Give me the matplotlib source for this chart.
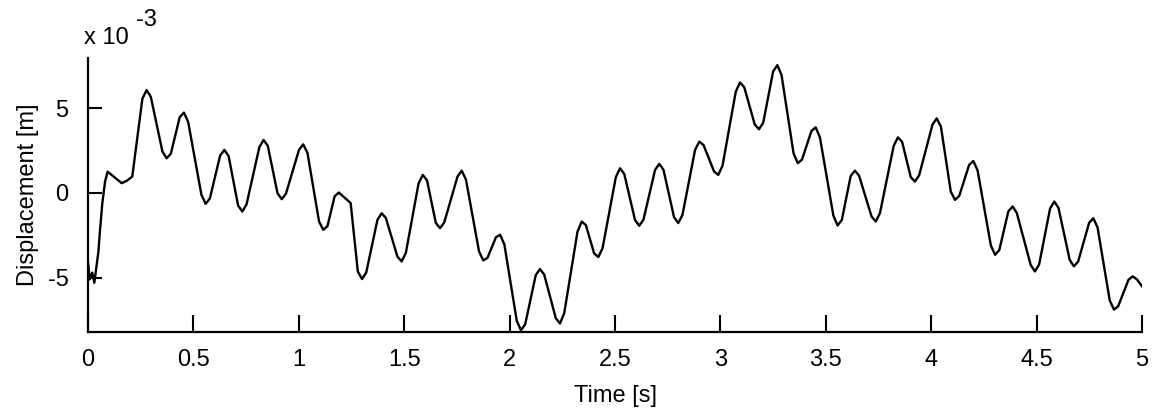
import numpy as np
import matplotlib
matplotlib.use("Agg")
import matplotlib.pyplot as plt

# time [s] and displacement [x 1e-3 m]
t = [0.000, 0.008, 0.020, 0.030, 0.049, 0.057, 0.068, 0.081, 0.093,
     0.160, 0.185, 0.210,
     0.258, 0.278, 0.298, 0.353, 0.373, 0.393, 0.435, 0.455, 0.475,
     0.538, 0.558, 0.578, 0.627, 0.647, 0.667, 0.712, 0.732, 0.752,
     0.813, 0.833, 0.853, 0.899, 0.919, 0.939, 1.001, 1.021, 1.041,
     1.096, 1.116, 1.136, 1.170, 1.190, 1.246,
     1.280, 1.300, 1.320, 1.373, 1.393, 1.413, 1.468, 1.488, 1.508,
     1.568, 1.588, 1.608, 1.650, 1.670, 1.690, 1.753, 1.773, 1.793,
     1.855, 1.875, 1.895, 1.935, 1.955, 1.975, 2.034, 2.054, 2.074,
     2.124, 2.144, 2.164, 2.219, 2.239, 2.259, 2.322, 2.342, 2.362,
     2.401, 2.421, 2.441, 2.504, 2.524, 2.544, 2.595, 2.615, 2.635,
     2.690, 2.710, 2.730, 2.780, 2.800, 2.820, 2.880, 2.900, 2.920,
     2.970, 2.990, 3.010, 3.073, 3.093, 3.113, 3.163, 3.183, 3.203,
     3.250, 3.270, 3.290, 3.347, 3.367, 3.387, 3.432, 3.452, 3.472,
     3.536, 3.556, 3.576, 3.618, 3.638, 3.658, 3.717, 3.737, 3.757,
     3.822, 3.842, 3.862, 3.903, 3.923, 3.943, 4.006, 4.026, 4.046,
     4.093, 4.113, 4.133, 4.180, 4.200, 4.220, 4.283, 4.303, 4.323,
     4.366, 4.386, 4.406, 4.472, 4.492, 4.512, 4.564, 4.584, 4.604,
     4.657, 4.677, 4.697, 4.749, 4.769, 4.789, 4.847, 4.867, 4.887,
     4.936, 4.956, 4.976, 5.000]
disp = [-4.10, -5.10, -4.70, -5.30, -3.50, -2.20, -0.60, 0.67, 1.25,
        0.57, 0.72, 0.96,
        5.55, 6.06, 5.66, 2.44, 2.04, 2.31, 4.46, 4.73, 4.19,
        -0.11, -0.65, -0.33, 2.21, 2.53, 2.17, -0.74, -1.10, -0.68,
        2.70, 3.12, 2.77, -0.02, -0.37, -0.05, 2.54, 2.86, 2.36,
        -1.68, -2.18, -1.96, -0.20, 0.02, -0.60,
        -4.63, -5.08, -4.69, -1.59, -1.20, -1.48, -3.76, -4.04, -3.53,
        0.55, 1.06, 0.75, -1.77, -2.08, -1.74, 0.97, 1.31, 0.78,
        -3.45, -3.98, -3.83, -2.62, -2.47, -3.03, -7.54, -8.10, -7.74,
        -4.85, -4.49, -4.81, -7.38, -7.70, -7.10, -2.29, -1.69, -1.90,
        -3.57, -3.78, -3.26, 0.93, 1.45, 1.11, -1.60, -1.94, -1.58,
        1.35, 1.71, 1.36, -1.43, -1.78, -1.30, 2.54, 3.02, 2.82,
        1.26, 1.06, 1.60, 5.97, 6.51, 6.23, 4.03, 3.75, 4.13,
        7.15, 7.53, 6.95, 2.33, 1.75, 1.96, 3.65, 3.86, 3.28,
        -1.34, -1.92, -1.60, 0.99, 1.31, 1.01, -1.39, -1.69, -1.19,
        2.77, 3.27, 3.01, 0.93, 0.67, 1.04, 4.02, 4.39, 3.91,
        0.07, -0.41, -0.18, 1.65, 1.88, 1.33, -3.10, -3.65, -3.37,
        -1.09, -0.80, -1.18, -4.25, -4.63, -4.22, -0.92, -0.51, -0.89,
        -3.95, -4.33, -4.05, -1.77, -1.49, -2.03, -6.34, -6.88, -6.68,
        -5.12, -4.92, -5.10, -5.51]

xticks = [0, 0.5, 1, 1.5, 2, 2.5, 3, 3.5, 4, 4.5, 5]
xticklabels = ["0", "0.5", "1", "1.5", "2", "2.5", "3", "3.5", "4", "4.5", "5"]
yticks = [-5, 0, 5]

plt.rcParams['font.family'] = ['Liberation Sans', 'DejaVu Sans']
plt.rcParams['axes.unicode_minus'] = False

fig = plt.figure(figsize=(11.56, 4.12), dpi=100)
ax = fig.add_axes([88/1156, 80/412, 1054/1156, 274/412])

ax.plot(t, disp, color='black', lw=1.7)

ax.set_xlim(0, 5)
ax.set_ylim(-8.2, 7.95)
ax.set_xticks(xticks)
ax.set_xticklabels(xticklabels)
ax.set_yticks(yticks)
ax.tick_params(direction='in', width=1.5, labelsize=17, top=False, right=False)
ax.tick_params(axis='x', length=12, pad=12)
ax.tick_params(axis='y', length=10, pad=14)
for s in ['top', 'right']:
    ax.spines[s].set_visible(False)
for s in ['left', 'bottom']:
    ax.spines[s].set_linewidth(1.6)

ax.set_xlabel("Time [s]", fontsize=17, labelpad=10)
ax.set_ylabel("Displacement [m]", fontsize=17, labelpad=6)

# MATLAB-style exponent label
fig.text(84/1156, 1 - 44/412, "x 10", fontsize=17, ha='left', va='baseline')
fig.text(136/1156, 1 - 26/412, "-3", fontsize=17, ha='left', va='baseline')

fig.savefig("out.png", dpi=100)
